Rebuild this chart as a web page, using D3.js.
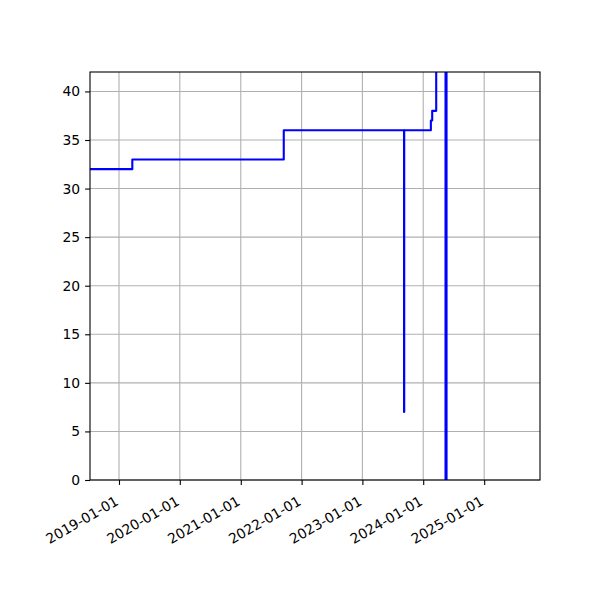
<!DOCTYPE html>
<html>
<head>
<meta charset="utf-8">
<script src="https://d3js.org/d3.v7.min.js"></script>
<style>
  body { margin: 0; background: #fff; }
  text { font-family: "DejaVu Sans", sans-serif; font-size: 13.9px; fill: #000; }
</style>
</head>
<body>
<svg id="chart" width="600" height="600"></svg>
<script>
// step series
const dates = ["2018-06-01", "2019-03-22", "2021-09-16", "2023-09-08", "2023-09-09",
  "2024-02-16", "2024-02-24", "2024-03-19", "2024-05-14", "2024-05-15",
  "2024-05-16", "2024-05-17", "2024-05-18", "2024-05-19", "2024-05-20"];
const values = [32, 33, 36, 7, 36, 37, 38, 48, 0, 55, 0, 60, 0, 52, 0];
const xTickLabels = ["2019-01-01", "2020-01-01", "2021-01-01", "2022-01-01", "2023-01-01", "2024-01-01", "2025-01-01"];
const yTicks = [0, 5, 10, 15, 20, 25, 30, 35, 40];

const parse = d3.utcParse("%Y-%m-%d");
const fmt = d3.utcFormat("%Y-%m-%d");
const data = dates.map((d, i) => ({ date: parse(d), value: values[i] }));

const plotLeft = 90, plotRight = 540, plotTop = 72, plotBottom = 480;

const x = d3.scaleUtc()
  .domain([parse("2018-07-11"), parse("2025-12-02")])
  .range([plotLeft, plotRight]);
const y = d3.scaleLinear()
  .domain([0, 42])
  .range([plotBottom, plotTop]);

const svg = d3.select("#chart");

svg.append("defs").append("clipPath").attr("id", "clip")
  .append("rect")
  .attr("x", plotLeft).attr("y", plotTop)
  .attr("width", plotRight - plotLeft).attr("height", plotBottom - plotTop);

// grid
const grid = svg.append("g");
grid.selectAll("line.vx")
  .data(xTickLabels.map(parse))
  .enter().append("line")
  .attr("x1", d => x(d)).attr("x2", d => x(d))
  .attr("y1", plotTop).attr("y2", plotBottom)
  .attr("stroke", "#b0b0b0").attr("stroke-width", 1.1);
grid.selectAll("line.hy")
  .data(yTicks)
  .enter().append("line")
  .attr("x1", plotLeft).attr("x2", plotRight)
  .attr("y1", d => y(d)).attr("y2", d => y(d))
  .attr("stroke", "#b0b0b0").attr("stroke-width", 1.1);

// the series
const line = d3.line()
  .x(d => x(d.date))
  .y(d => y(d.value))
  .curve(d3.curveStepAfter);

svg.append("path")
  .datum(data)
  .attr("clip-path", "url(#clip)")
  .attr("d", line)
  .attr("fill", "none")
  .attr("stroke", "#0000ff")
  .attr("stroke-width", 2.1)
  .attr("stroke-linejoin", "round");

// axes
const xAxis = svg.append("g")
  .attr("transform", `translate(0,${plotBottom})`)
  .call(d3.axisBottom(x)
    .tickValues(xTickLabels.map(parse))
    .tickFormat(fmt)
    .tickSizeInner(4.9).tickSizeOuter(0));
xAxis.select(".domain").remove();
xAxis.selectAll(".tick line").attr("stroke", "#000").attr("stroke-width", 1.1);
xAxis.selectAll(".tick text")
  .attr("text-anchor", "end")
  .attr("dy", null)
  .attr("y", 0)
  .attr("transform", "translate(0,24) rotate(-30)");

const yAxis = svg.append("g")
  .attr("transform", `translate(${plotLeft},0)`)
  .call(d3.axisLeft(y)
    .tickValues(yTicks)
    .tickSizeInner(4.9).tickSizeOuter(0)
    .tickPadding(5));
yAxis.select(".domain").remove();
yAxis.selectAll(".tick line").attr("stroke", "#000").attr("stroke-width", 1.1);
svg.selectAll(".tick text").attr("font-family", null).attr("font-size", null);
xAxis.attr("font-family", null).attr("font-size", null);
yAxis.attr("font-family", null).attr("font-size", null);

// frame
svg.append("rect")
  .attr("x", plotLeft).attr("y", plotTop)
  .attr("width", plotRight - plotLeft).attr("height", plotBottom - plotTop)
  .attr("fill", "none")
  .attr("stroke", "#000")
  .attr("stroke-width", 1.1);
</script>
</body>
</html>
